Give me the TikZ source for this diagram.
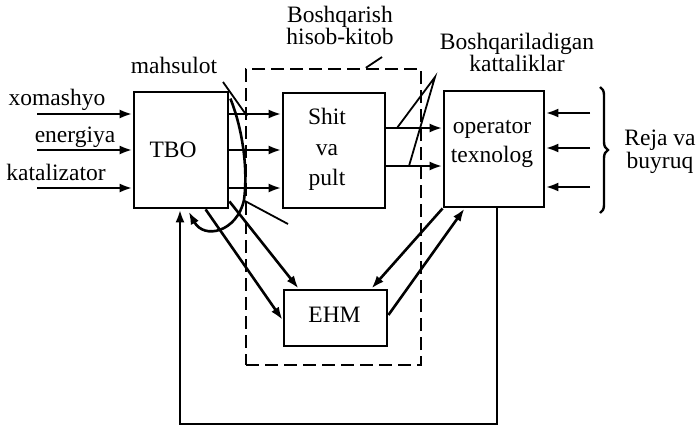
\documentclass[tikz,border=0pt]{standalone}
\usepackage{fontspec}
\setmainfont{Liberation Serif}
\usetikzlibrary{arrows.meta,calc,decorations.pathreplacing}
\begin{document}
\begin{tikzpicture}[x=1pt,y=-1pt,
  box/.style={draw,line width=2.8pt,inner sep=0pt},
  arr/.style={line width=2.6pt,-{Latex[length=13pt,width=9pt]}},
  leader/.style={line width=1.8pt},
  frame/.style={draw,line width=2.4pt,dash pattern=on 13pt off 6pt,inner sep=0pt},
  txt/.style={inner sep=0pt,align=center,font=\fontsize{23.5}{#1}\selectfont},
  txt/.default=21
]
\useasboundingbox (0,0) rectangle (698,428);

% blocks
\node[box,minimum width=94pt,minimum height=116pt] (tbo) at (181,150) {};
\node[box,minimum width=102pt,minimum height=115pt] (shit) at (334,150.5) {};
\node[box,minimum width=100pt,minimum height=116pt] (oper) at (494,149) {};
\node[box,minimum width=103pt,minimum height=56pt] (ehm) at (335.5,318) {};
\node[frame,minimum width=175pt,minimum height=296pt] (ctrl) at (333.5,217) {};

% block texts
\node[txt] (tbotxt) at (173,150) {TBO};
\node[txt=30.5] (shittxt) at (327,149.5) {Shit\\va\\pult};
\node[txt=29] (opertxt) at (492,144) {operator\\texnolog};
\node[txt] (ehmtxt) at (334.5,315) {EHM};

% outer labels
\node[txt] (lx) at (57,100) {xomashyo};
\node[txt] (le) at (75,137) {energiya};
\node[txt] (lk) at (56,172) {katalizator};
\node[txt] (lm) at (174,65) {mahsulot};
\node[txt] (lb) at (340,25.5) {Boshqarish\\hisob-kitob};
\node[txt=20] (lc) at (517,52.5) {Boshqariladigan\\kattaliklar};
\node[txt=23] (lr) at (660,151.5) {Reja va\\buyruq};

% inputs of the process
\coordinate (x1) at (37,114);
\coordinate (x2) at (37,150);
\coordinate (x3) at (37,188);
\foreach \c in {x1,x2,x3} {
  \draw[arr] (\c) -- (\c -| tbo.west);
  \draw[arr] (tbo.east |- \c) -- (shit.west |- \c);
}

% panel to operator
\coordinate (s1) at (0,128);
\coordinate (s2) at (0,166);
\foreach \c in {s1,s2}
  \draw[arr] (shit.east |- \c) -- (oper.west |- \c);

% plan and orders
\coordinate (r1) at (590,113);
\coordinate (r2) at (590,148);
\coordinate (r3) at (590,187);
\foreach \c in {r1,r2,r3}
  \draw[arr] (\c) -- (\c -| oper.east);
\draw[line width=2.4pt,decorate,decoration={brace,amplitude=8pt}]
  (600,87) -- (600,213);

% feedback loop
\coordinate (fbR) at (497,424);
\coordinate (fbL) at (180,424);
\draw[arr] (oper.south -| fbR) -- (fbR) -- (fbL) -- (fbL |- tbo.south);

% links with the computer
\draw[arr] ($(tbo.south west)+(73,0)$) -- ($(ehm.west)+(0,2)$);
\draw[arr] ($(tbo.south east)+(0,-8)$) -- ($(ehm.north west)+(16,0)$);
\draw[arr] (oper.south west) -- ($(ehm.north east)+(-17,0)$);
\draw[arr] ($(ehm.east)+(0,-3)$) -- ($(oper.south west)+(22,0)$);

% local loop of the process
\draw[arr] ($(tbo.north east)+(1,8)$) .. controls (243,130) and (248,170) .. (244,200)
  .. controls (237,232) and (204,240) .. ($(tbo.south west)+(56,2)$);

% leader lines
\coordinate (m1) at (223,82);
\coordinate (m2) at (247,116);
\draw[leader] (m1) -- (m2);
\coordinate (c1) at (245,201);
\coordinate (c2) at (288,224);
\draw[leader] (c1) -- (c2);
\coordinate (b1) at (382,57);
\draw[leader] ($(ctrl.north west)+(121,0)$) -- (b1);
\coordinate (k0) at (435,77);
\coordinate (k1) at (397,128);
\coordinate (k2) at (409,166);
\draw[leader] (k1) -- (k0) -- (k2);
\end{tikzpicture}
\end{document}
